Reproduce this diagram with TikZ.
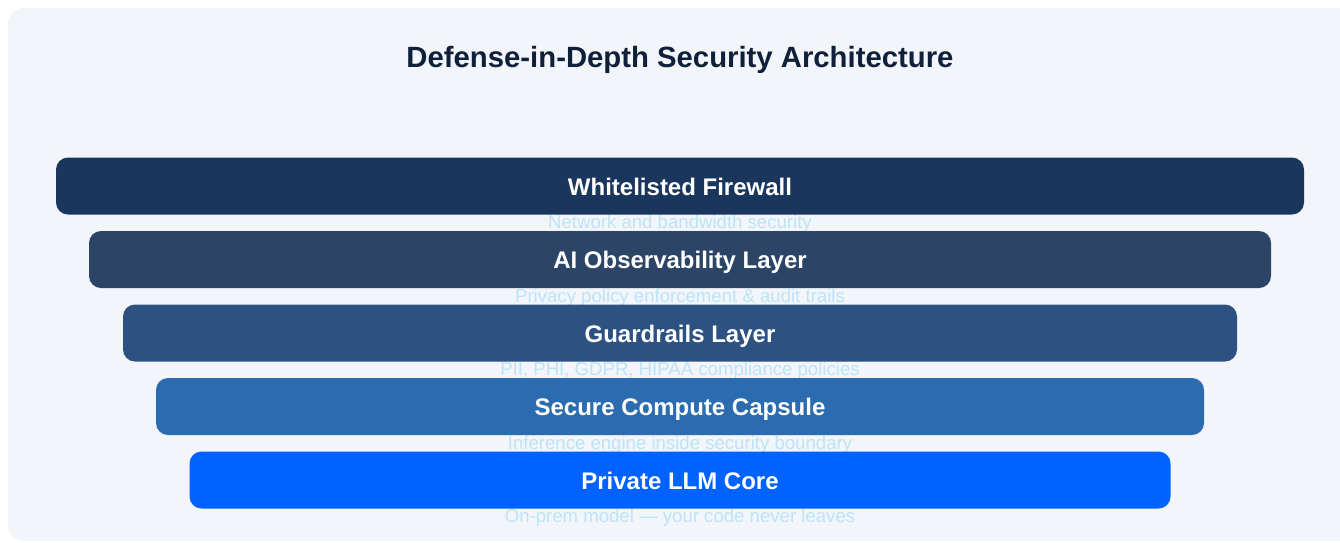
\documentclass[tikz,border=0pt]{standalone}
\usepackage{fontspec}
\setmainfont{Liberation Sans}
\definecolor{panel}{HTML}{F2F6FA}
\definecolor{titlec}{HTML}{10203A}
\definecolor{subc}{HTML}{BEE3F8}
\definecolor{cA}{HTML}{1B365D}
\definecolor{cB}{HTML}{2C4466}
\definecolor{cC}{HTML}{2D5282}
\definecolor{cD}{HTML}{2B6CB0}
\definecolor{cE}{HTML}{0062FF}
\begin{document}
\begin{tikzpicture}[x=1pt,y=-1pt,
  layerbox/.style={rounded corners=12pt, inner sep=0pt, minimum height=57pt},
  labeltext/.style={text=white, inner sep=0pt, anchor=base, font=\fontsize{24}{28}\selectfont\bfseries},
  subtext/.style={text=subc, inner sep=0pt, anchor=base, font=\fontsize{18.6}{22}\selectfont},
  titletext/.style={text=titlec, inner sep=0pt, anchor=base, font=\fontsize{29.3}{34}\selectfont\bfseries}]
\useasboundingbox (0,0) rectangle (1340,542);
\fill[panel, rounded corners=16pt] (8,8) rectangle (1360,541);
\node[titletext] (title) at (680,67) {Defense-in-Depth Security Architecture};
% subtitles (behind bars)
\node[subtext] (s1) at (680,228.5) {Network and bandwidth security};
\node[subtext] (s2) at (680,302) {Privacy policy enforcement \& audit trails};
\node[subtext] (s3) at (680,375.5) {PII, PHI, GDPR, HIPAA compliance policies};
\node[subtext] (s4) at (680,449) {Inference engine inside security boundary};
\node[subtext] (s5) at (680,522.5) {On-prem model — your code never leaves};
% bars
\node[layerbox, fill=cA, minimum width=1248pt] (b1) at (680,186) {};
\node[layerbox, fill=cB, minimum width=1182pt] (b2) at (680,259.5) {};
\node[layerbox, fill=cC, minimum width=1114pt] (b3) at (680,333) {};
\node[layerbox, fill=cD, minimum width=1048pt] (b4) at (680,406.5) {};
\node[layerbox, fill=cE, minimum width=981pt] (b5) at (680,480) {};
% labels
\node[labeltext] (l1) at ([yshift=-9pt]b1.center) {Whitelisted Firewall};
\node[labeltext] (l2) at ([yshift=-9pt]b2.center) {AI Observability Layer};
\node[labeltext] (l3) at ([yshift=-9pt]b3.center) {Guardrails Layer};
\node[labeltext] (l4) at ([yshift=-9pt]b4.center) {Secure Compute Capsule};
\node[labeltext] (l5) at ([yshift=-9pt]b5.center) {Private LLM Core};
\end{tikzpicture}
\end{document}
